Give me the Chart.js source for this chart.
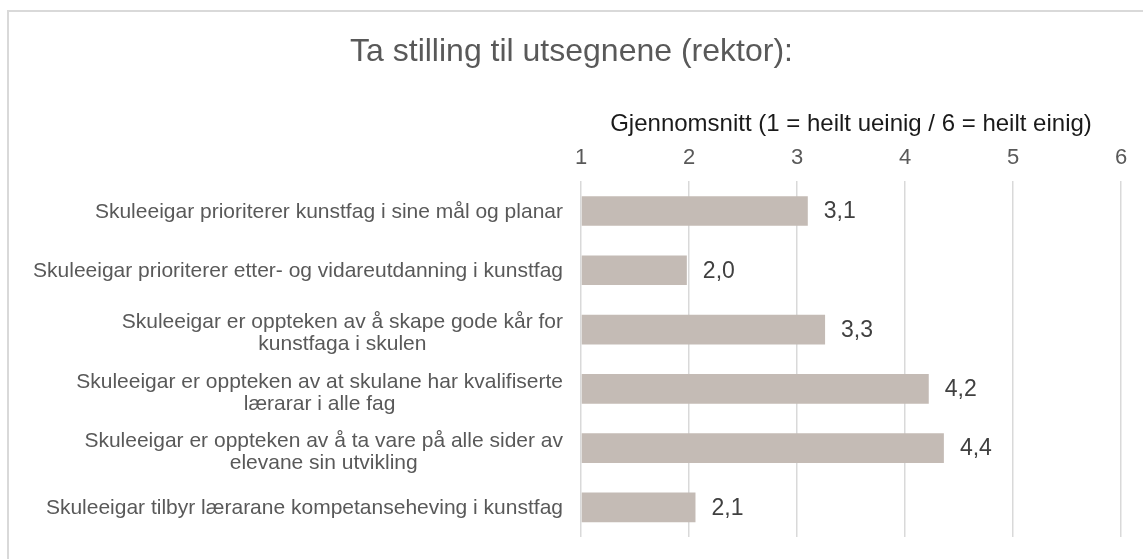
<!DOCTYPE html>
<html>
<head>
<meta charset="utf-8">
<script src="https://cdn.jsdelivr.net/npm/chart.js@4/dist/chart.umd.min.js"></script>
<style>
  body { margin: 0; background: #fff; }
  #wrap { position: relative; width: 1143px; height: 559px; overflow: hidden; }
  #frame { position: absolute; left: 7px; top: 10px; width: 1200px; height: 600px;
           border-left: 2px solid #D9D9D9; border-top: 2px solid #D9D9D9; }
  canvas { position: absolute; left: 0; top: 0; }
</style>
</head>
<body>
<div id="wrap">
  <div id="frame"></div>
  <canvas id="chart" width="1143" height="559"></canvas>
</div>
<script>
// data
const kategoriar = [
  ["Skuleeigar prioriterer kunstfag i sine mål og planar"],
  ["Skuleeigar prioriterer etter- og vidareutdanning i kunstfag"],
  ["Skuleeigar er oppteken av å skape gode kår for", "kunstfaga i skulen"],
  ["Skuleeigar er oppteken av at skulane har kvalifiserte", "lærarar i alle fag"],
  ["Skuleeigar er oppteken av å ta vare på alle sider av", "elevane sin utvikling"],
  ["Skuleeigar tilbyr lærarane kompetanseheving i kunstfag"]
];
const snitt = [3.10, 1.98, 3.26, 4.22, 4.36, 2.06];
const tittel = "Ta stilling til utsegnene (rektor):";
const aksetittel = "Gjennomsnitt (1 = heilt ueinig / 6 = heilt einig)";

const FONT = "'Liberation Sans', Arial, sans-serif";
Chart.defaults.font.family = FONT;

const fmt = (v) => v.toFixed(1).replace(".", ",");

// verdiar til høgre for søylene
const verdiEtikettar = {
  id: "verdiEtikettar",
  afterDatasetsDraw(chart) {
    const ctx = chart.ctx;
    const meta = chart.getDatasetMeta(0);
    ctx.save();
    ctx.font = "23px " + FONT;
    ctx.fillStyle = "#404040";
    ctx.textAlign = "left";
    ctx.textBaseline = "middle";
    meta.data.forEach((bar, i) => {
      ctx.fillText(fmt(snitt[i]), bar.x + 16, bar.y + 1);
    });
    ctx.restore();
  }
};

// kategorinamn: høgrejustert blokk, linjene sentrert
const kategoriEtikettar = {
  id: "kategoriEtikettar",
  afterDraw(chart) {
    const ctx = chart.ctx;
    const y = chart.scales.y;
    const hogre = chart.chartArea.left - 18;
    ctx.save();
    ctx.font = "21px " + FONT;
    ctx.fillStyle = "#595959";
    ctx.textAlign = "center";
    ctx.textBaseline = "middle";
    kategoriar.forEach((linjer, i) => {
      const maks = Math.max(...linjer.map((l) => ctx.measureText(l).width));
      const midtX = hogre - maks / 2;
      const midtY = y.getPixelForValue(i) + (linjer.length > 1 ? 4 : 1);
      const lh = 22;
      linjer.forEach((l, j) => {
        ctx.fillText(l, midtX, midtY + (j - (linjer.length - 1) / 2) * lh);
      });
    });
    ctx.restore();
  }
};

new Chart(document.getElementById("chart"), {
  type: "bar",
  data: {
    labels: kategoriar,
    datasets: [
      {
        data: snitt,
        base: 1,
        backgroundColor: "#C4BBB5",
        barPercentage: 0.5,
        categoryPercentage: 1.0,
      },
    ],
  },
  options: {
    indexAxis: "y",
    responsive: false,
    animation: false,
    layout: { padding: { left: 22, right: 22, top: 0, bottom: 22 } },
    plugins: {
      legend: { display: false },
      tooltip: { enabled: false },
      title: {
        display: true,
        text: tittel,
        color: "#595959",
        font: { size: 32, weight: "normal" },
        padding: { top: 33, bottom: 33 },
      },
    },
    scales: {
      x: {
        position: "top",
        min: 1,
        max: 6,
        ticks: { stepSize: 1, color: "#595959", font: { size: 22 }, padding: 10 },
        grid: { color: "#D9D9D9", drawTicks: false, lineWidth: 1.5 },
        border: { display: false },
        title: {
          display: true,
          text: aksetittel,
          color: "#1a1a1a",
          font: { size: 24 },
          padding: { top: 6, bottom: 6 },
        },
        afterFit(s) { s.height = 77; },
      },
      y: {
        ticks: { display: false },
        grid: { display: false },
        border: { display: false },
        afterFit(s) { s.width = 559; },
      },
    },
  },
  plugins: [verdiEtikettar, kategoriEtikettar],
});
</script>
</body>
</html>
